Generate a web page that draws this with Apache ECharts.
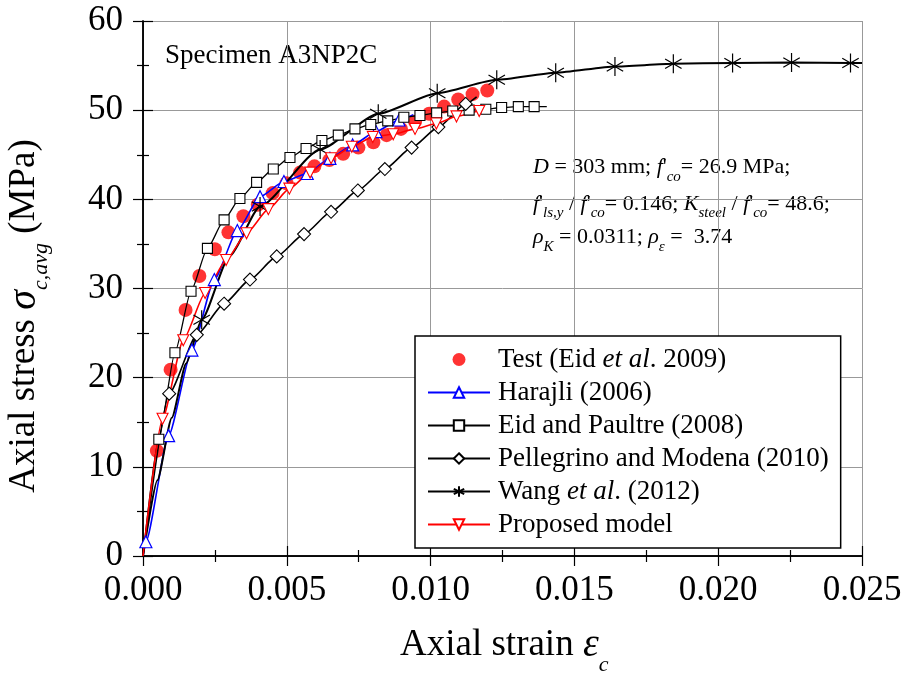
<!DOCTYPE html>
<html>
<head>
<meta charset="utf-8">
<script src="https://cdn.jsdelivr.net/npm/echarts@6/dist/echarts.min.js"></script>
<style>
  html, body { margin: 0; padding: 0; background: #fff; }
  #main { width: 907px; height: 677px; }
</style>
</head>
<body>
<div id="main"></div>
<script>
// strain, stress (MPa)
const testPts = [
  [0.00048, 11.8], [0.00096, 20.9], [0.00148, 27.6], [0.00196, 31.4], [0.0025, 34.4],
  [0.00297, 36.3], [0.00349, 38.1], [0.00399, 39.4], [0.00451, 40.7], [0.00499, 41.8],
  [0.00546, 43.0], [0.00596, 43.7], [0.00648, 44.4], [0.00696, 45.1], [0.00749, 45.8],
  [0.00801, 46.4], [0.00847, 47.2], [0.00897, 47.9], [0.00946, 48.7], [0.00995, 49.6],
  [0.01047, 50.4], [0.01096, 51.2], [0.01146, 51.8], [0.01197, 52.2]
];
const harajliMarks = [
  [0.0001, 1.6], [0.00089, 13.5], [0.0017, 23.1], [0.00248, 31.0], [0.00328, 36.5],
  [0.00407, 40.3], [0.0049, 42.0], [0.00571, 42.9], [0.0065, 44.6], [0.00729, 46.1],
  [0.0081, 47.6], [0.0089, 48.9]
];
const harajliCurve = [[0, 0], [0.0094, 49.5]];
const eidMarks = [
  [0.00055, 13.1], [0.00111, 22.8], [0.00167, 29.7], [0.00224, 34.5], [0.00282, 37.7],
  [0.00337, 40.1], [0.00395, 41.9], [0.00453, 43.4], [0.00511, 44.7], [0.00567, 45.7],
  [0.00622, 46.6], [0.00679, 47.2], [0.00737, 47.9], [0.00792, 48.4], [0.00851, 48.8],
  [0.00907, 49.2], [0.00963, 49.4], [0.01021, 49.7], [0.01077, 49.9], [0.01134, 50.0],
  [0.01192, 50.1], [0.01247, 50.3], [0.01305, 50.4], [0.0136, 50.4]
];
const eidCurve = [[0, 0], [0.01404, 50.4]];
const pellMarks = [
  [0.00091, 18.2], [0.00187, 24.8], [0.00282, 28.3], [0.00372, 31.0], [0.00465, 33.6],
  [0.0056, 36.1], [0.00654, 38.6], [0.00747, 41.0], [0.00841, 43.4], [0.00934, 45.8],
  [0.01027, 48.1], [0.01122, 50.7]
];
const pellCurve = [[0, 0], [0.0116, 51.5]];
const wangMarks = [
  [0.00204, 26.5], [0.00407, 39.2], [0.00616, 45.6], [0.00818, 49.6], [0.01023, 51.9],
  [0.0123, 53.4], [0.01435, 54.2], [0.01641, 54.9], [0.01844, 55.2], [0.0205, 55.3],
  [0.02255, 55.35], [0.0246, 55.3]
];
const wangCurve = [[0, 0], [0.0005, 8.5], [0.001, 15.5], [0.0015, 21.6], [0.003, 33.6], [0.025, 55.3]];
const propMarks = [
  [0.00068, 15.4], [0.0014, 24.2], [0.00216, 29.5], [0.00289, 33.2], [0.0036, 36.2],
  [0.00436, 38.9], [0.00509, 41.2], [0.00581, 43.0], [0.00654, 44.6], [0.00726, 45.9],
  [0.00799, 47.0], [0.0087, 47.3], [0.00946, 47.9], [0.0102, 48.5], [0.0109, 49.3],
  [0.01169, 49.9]
];
const propCurve = [[0, 0], [0.012, 50.4]];

const xTicks = [0, 0.005, 0.01, 0.015, 0.02, 0.025];
const yTicks = [0, 10, 20, 30, 40, 50, 60];

const FONT = '"Liberation Serif", "Times New Roman", serif';

// markers + unmarked curve points, sorted by strain
function curveData(marks, curve) {
  const all = marks.map(p => ({value: p}))
    .concat(curve.map(p => ({value: p, symbol: 'none'})));
  return all.sort((a, b) => a.value[0] - b.value[0]);
}

const chart = echarts.init(document.getElementById('main'));

const axisBase = {
  type: 'value',
  axisLine: {show: true, lineStyle: {color: '#000', width: 1.5}},
  axisTick: {show: true, inside: false, length: 10, lineStyle: {color: '#000', width: 1.2}},
  minorTick: {show: true, splitNumber: 2, length: 6, lineStyle: {color: '#000', width: 1.2}},
};

const asterisk = 'path://M0,-10L0,10M-8.66,-5L8.66,5M-8.66,5L8.66,-5';

const lineBase = {
  type: 'line',
  smooth: 0.2,
  smoothMonotone: 'x',
  showAllSymbol: true,
  z: 3,
};

function annoRich() {
  return {
    n: {fontSize: 22, fontFamily: FONT, lineHeight: 34},
    i: {fontSize: 22, fontFamily: FONT, fontStyle: 'italic', lineHeight: 34},
    s: {fontSize: 15, fontFamily: FONT, fontStyle: 'italic', lineHeight: 15, verticalAlign: 'bottom'}
  };
}

const option = {
  animation: false,
  backgroundColor: '#fff',
  grid: {left: 143, right: 45, top: 21, bottom: 121},
  xAxis: [
    Object.assign({}, axisBase, {
      min: xTicks[0], max: xTicks[xTicks.length - 1], interval: 0.005,
      axisLabel: {
        fontSize: 35, fontFamily: FONT, color: '#000', margin: 17,
        formatter: v => v.toFixed(3)
      },
      splitLine: {show: true, lineStyle: {color: '#999', width: 1}},
    }),
    Object.assign({}, axisBase, {
      position: 'top',
      min: xTicks[0], max: xTicks[xTicks.length - 1], interval: 0.005,
      axisLabel: {show: false},
      splitLine: {show: false},
    })
  ],
  yAxis: [
    Object.assign({}, axisBase, {
      min: yTicks[0], max: yTicks[yTicks.length - 1], interval: 10,
      axisLabel: {fontSize: 35, fontFamily: FONT, color: '#000', margin: 20},
      splitLine: {show: true, lineStyle: {color: '#999', width: 1}},
    }),
    Object.assign({}, axisBase, {
      position: 'right',
      min: yTicks[0], max: yTicks[yTicks.length - 1], interval: 10,
      axisLabel: {show: false},
      splitLine: {show: false},
    })
  ],
  legend: {
    orient: 'vertical',
    left: 415,
    top: 336,
    width: 428,
    padding: [7, 12, 7, 12],
    itemWidth: 62,
    itemHeight: 13,
    itemGap: 0,
    selectedMode: false,
    backgroundColor: '#fff',
    borderColor: '#000',
    borderWidth: 1.5,
    borderRadius: 0,
    z: 10,
    formatter: name => name.replace('et al', '{i|et al}'),
    textStyle: {
      fontSize: 27, fontFamily: FONT, color: '#000', lineHeight: 33,
      padding: [0, 0, 0, 3],
      rich: {i: {fontSize: 27, fontFamily: FONT, fontStyle: 'italic', lineHeight: 33}}
    },
    data: ['Test (Eid et al. 2009)', 'Harajli (2006)', 'Eid and Paultre (2008)',
      'Pellegrino and Modena (2010)', 'Wang et al. (2012)', 'Proposed model']
  },
  series: [
    {
      name: 'Test (Eid et al. 2009)',
      type: 'scatter',
      symbol: 'circle',
      symbolSize: 14,
      itemStyle: {color: '#ff0000'},
      data: testPts,
      z: 2
    },
    Object.assign({}, lineBase, {
      name: 'Harajli (2006)',
      symbol: 'triangle', symbolSize: 12,
      lineStyle: {color: '#0000ff', width: 1.6},
      itemStyle: {color: '#fff', borderColor: '#0000ff', borderWidth: 1.2},
      data: curveData(harajliMarks, harajliCurve)
    }),
    Object.assign({}, lineBase, {
      name: 'Eid and Paultre (2008)',
      symbol: 'rect', symbolSize: 10,
      lineStyle: {color: '#000', width: 1.3},
      itemStyle: {color: '#fff', borderColor: '#000', borderWidth: 1.1},
      data: curveData(eidMarks, eidCurve)
    }),
    Object.assign({}, lineBase, {
      name: 'Pellegrino and Modena (2010)',
      symbol: 'diamond', symbolSize: 13,
      lineStyle: {color: '#000', width: 1.6},
      itemStyle: {color: '#fff', borderColor: '#000', borderWidth: 1.1},
      data: curveData(pellMarks, pellCurve)
    }),
    Object.assign({}, lineBase, {
      name: 'Wang et al. (2012)',
      symbol: asterisk, symbolSize: 19, symbolKeepAspect: true,
      lineStyle: {color: '#000', width: 2},
      itemStyle: {color: 'none', borderColor: '#000', borderWidth: 1.2},
      data: curveData(wangMarks, wangCurve)
    }),
    Object.assign({}, lineBase, {
      name: 'Proposed model',
      symbol: 'triangle', symbolSize: 11, symbolRotate: 180,
      lineStyle: {color: '#ff0000', width: 1.6},
      itemStyle: {color: '#fff', borderColor: '#ff0000', borderWidth: 1.1},
      data: curveData(propMarks, propCurve)
    })
  ],
  graphic: [
    {
      type: 'text', x: 165, y: 56,
      style: {text: 'Specimen A3NP2C', font: '27px ' + FONT, fill: '#000',
        align: 'left', verticalAlign: 'middle'}
    },
    {
      type: 'text', x: 533, y: 167.5,
      style: {
        text: '{i|D}{n| = 303 mm; }{i|f}{n|\'}{s|co}{n|= 26.9 MPa;}',
        align: 'left', verticalAlign: 'middle', fill: '#000',
        rich: annoRich()
      }
    },
    {
      type: 'text', x: 533, y: 204,
      style: {
        text: '{i|f}{n|\'}{s|ls,y}{n| / }{i|f}{n|\'}{s|co}{n|= 0.146; }{i|K}{s|steel}{n| / }{i|f}{n|\'}{s|co}{n|= 48.6;}',
        align: 'left', verticalAlign: 'middle', fill: '#000',
        rich: annoRich()
      }
    },
    {
      type: 'text', x: 533, y: 237.5,
      style: {
        text: '{i|ρ}{s|K}{n| = 0.0311; }{i|ρ}{s|ε}{n| =  3.74}',
        align: 'left', verticalAlign: 'middle', fill: '#000',
        rich: annoRich()
      }
    },
    {
      type: 'text', x: 400, y: 645,
      style: {
        text: '{n|Axial strain }{g|ε}{s|c}',
        align: 'left', verticalAlign: 'middle', fill: '#000',
        rich: {
          n: {fontSize: 37, fontFamily: FONT, lineHeight: 62},
          g: {fontSize: 40, fontFamily: FONT, fontStyle: 'italic', lineHeight: 62},
          s: {fontSize: 22, fontFamily: FONT, fontStyle: 'italic', lineHeight: 22, verticalAlign: 'bottom'}
        }
      }
    },
    {
      type: 'text', x: 24, y: 316, rotation: Math.PI / 2,
      style: {
        text: '{n|Axial stress }{g|σ}{s|c,avg}{n| (MPa)}',
        align: 'center', verticalAlign: 'middle', fill: '#000',
        rich: {
          n: {fontSize: 37, fontFamily: FONT, lineHeight: 56},
          g: {fontSize: 40, fontFamily: FONT, fontStyle: 'italic', lineHeight: 56},
          s: {fontSize: 22, fontFamily: FONT, fontStyle: 'italic', lineHeight: 22, verticalAlign: 'bottom'}
        }
      }
    }
  ]
};

chart.setOption(option);
</script>
</body>
</html>
